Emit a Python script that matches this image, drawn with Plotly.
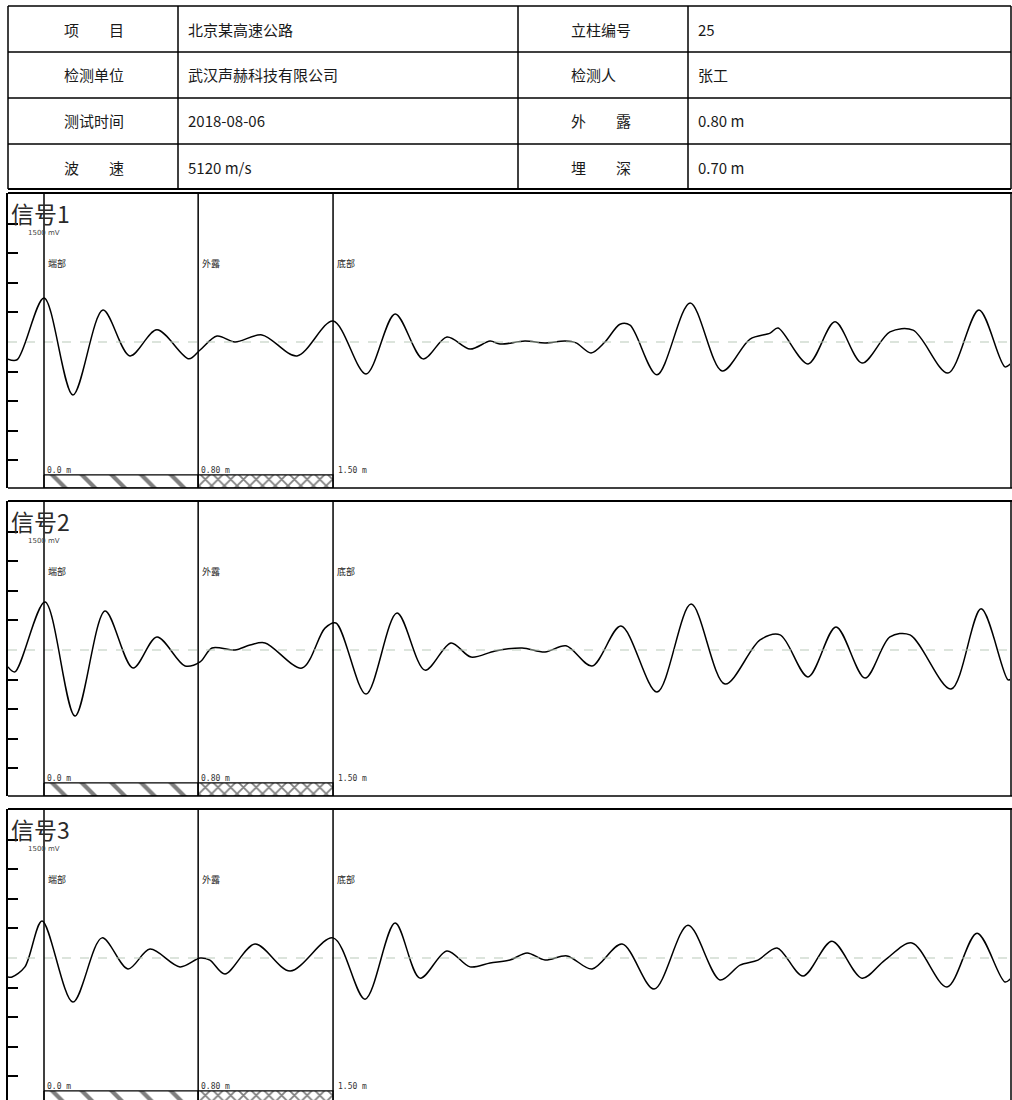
import plotly.graph_objects as go

W, H = 1012, 1100

# ---------------- data ----------------
left_labels = ["项　　目", "检测单位", "测试时间", "波　　速"]
left_values = ["北京某高速公路", "武汉声赫科技有限公司", "2018-08-06", "5120 m/s"]
right_labels = ["立柱编号", "检测人", "外　　露", "埋　　深"]
right_values = ["25", "张工", "0.80 m", "0.70 m"]

signal_names = ["信号1", "信号2", "信号3"]
gain_label = "1500 mV"
mark_pos = [0.0, 0.80, 1.50]          # m
mark_names = ["端部", "外露", "底部"]
mark_labels = ["0.0 m", "0.80 m", "1.50 m"]

# distance (m) / amplitude (tick units)
s1_x = [-0.187, -0.140, 0.000, 0.150, 0.306, 0.446, 0.586, 0.752, 0.810, 0.898, 0.991, 1.131, 1.313,
        1.500, 1.671, 1.822, 1.967, 2.091, 2.211, 2.315, 2.366, 2.496, 2.600, 2.704, 2.761, 2.839,
        2.911, 2.989, 3.041, 3.181, 3.353, 3.519, 3.664, 3.768, 3.809, 3.965, 4.105, 4.245, 4.390,
        4.510, 4.691, 4.852, 4.987, 5.024]
s1_y = [-0.58, -0.60, 1.49, -1.79, 1.08, -0.47, 0.41, -0.57, -0.27, 0.20, 0.00, 0.24, -0.47,
        0.71, -1.08, 0.95, -0.57, 0.17, -0.24, 0.03, -0.07, 0.03, -0.03, 0.03, -0.03, -0.37,
        0.00, 0.60, 0.57, -1.11, 1.32, -0.98, 0.10, 0.30, 0.47, -0.74, 0.68, -0.71, 0.34,
        0.40, -1.05, 1.08, -0.84, -0.68]

s2_x = [-0.187, -0.151, 0.005, 0.161, 0.317, 0.462, 0.586, 0.732, 0.810, 0.872, 0.991, 1.069, 1.147,
        1.339, 1.458, 1.515, 1.671, 1.832, 1.977, 2.112, 2.216, 2.341, 2.481, 2.600, 2.709, 2.844,
        2.994, 3.181, 3.358, 3.534, 3.716, 3.820, 3.965, 4.110, 4.261, 4.390, 4.494, 4.707, 4.863,
        5.003, 5.024]
s2_y = [-0.57, -0.74, 1.62, -2.23, 1.32, -0.61, 0.44, -0.54, -0.40, 0.07, 0.00, 0.17, 0.24,
        -0.61, 0.74, 0.91, -1.49, 1.25, -0.68, 0.24, -0.24, -0.03, 0.07, -0.07, 0.14, -0.54,
        0.81, -1.42, 1.55, -1.15, 0.34, 0.51, -0.91, 0.78, -0.95, 0.44, 0.51, -1.32, 1.39,
        -1.01, -0.95]

s3_x = [-0.187, -0.166, -0.099, -0.010, 0.150, 0.301, 0.436, 0.550, 0.706, 0.810, 0.861, 0.939, 1.095,
        1.277, 1.500, 1.666, 1.822, 1.951, 2.091, 2.211, 2.315, 2.418, 2.507, 2.600, 2.714, 2.844,
        3.000, 3.166, 3.342, 3.508, 3.612, 3.705, 3.804, 3.939, 4.089, 4.245, 4.364, 4.504, 4.686,
        4.842, 4.987, 5.024]
s3_y = [-0.64, -0.64, -0.30, 1.25, -1.49, 0.68, -0.37, 0.30, -0.30, 0.00, -0.07, -0.54, 0.47,
        -0.44, 0.68, -1.39, 1.18, -0.68, 0.24, -0.30, -0.17, -0.07, 0.17, -0.07, 0.07, -0.37,
        0.47, -1.05, 1.11, -0.74, -0.24, -0.07, 0.34, -0.61, 0.57, -0.68, -0.07, 0.51, -0.98,
        0.84, -0.81, -0.64]

signals = [(s1_x, s1_y), (s2_x, s2_y), (s3_x, s3_y)]
tick_vals = [-4, -3, -2, -1, 1, 2, 3, 4]

# ---------------- layout helpers ----------------
def px(x):
    return x / W


def py(y):
    return 1 - y / H


CJK = "Noto Sans CJK SC"
shapes, annotations, traces = [], [], []

# ---------------- header table ----------------
tbl_left, tbl_right = 8, 1011
row_lines = [6, 52, 98, 144]
col_lines = [8, 178, 518, 688]
for i, yl in enumerate(row_lines):
    shapes.append(dict(type="line", xref="paper", yref="paper", x0=px(tbl_left), x1=px(tbl_right),
                       y0=py(yl), y1=py(yl), line=dict(color="black", width=1.5)))
shapes.append(dict(type="line", xref="paper", yref="paper", x0=px(tbl_left), x1=px(tbl_right),
                   y0=py(189), y1=py(189), line=dict(color="black", width=2)))
for xl in col_lines + [tbl_right]:
    shapes.append(dict(type="line", xref="paper", yref="paper", x0=px(xl), x1=px(xl),
                       y0=py(6), y1=py(189), line=dict(color="black", width=1.5)))

row_centers = [29, 75, 121, 167]
for i, yc in enumerate(row_centers):
    for txt, xx in [(left_labels[i], 62), (left_values[i], 186), (right_labels[i], 569), (right_values[i], 696)]:
        annotations.append(dict(text=txt, xref="paper", yref="paper", x=px(xx), y=py(yc),
                                xanchor="left", yanchor="middle", showarrow=False,
                                font=dict(family=CJK, size=15, color="#1a1a1a")))

# ---------------- signal panels ----------------
panel_tops = [193, 501, 809]
panel_h = 295
unit = 29.6
x_left, x_right = 8, 1010
scale = 192.7  # px per m
x0_px = 44
xrange_m = [(x_left - x0_px) / scale, (x_right - x0_px) / scale]

layout_axes = {}
for k in range(3):
    top = panel_tops[k]
    bottom = min(top + panel_h, H)
    base = top + 149
    yr = [(base - bottom) / unit, (base - top) / unit]
    xa = "xaxis" if k == 0 else f"xaxis{k+1}"
    ya = "yaxis" if k == 0 else f"yaxis{k+1}"
    xr = "x" if k == 0 else f"x{k+1}"
    yrf = "y" if k == 0 else f"y{k+1}"
    layout_axes[xa] = dict(domain=[px(x_left), px(x_right)], range=xrange_m, anchor=yrf,
                           showgrid=False, zeroline=False, showticklabels=False, ticks="",
                           showline=False, fixedrange=True)
    layout_axes[ya] = dict(domain=[py(bottom), py(top)], range=yr, anchor=xr,
                           showgrid=False, zeroline=False, showticklabels=False,
                           ticks="inside", ticklen=10, tickwidth=1.5, tickcolor="black",
                           tickvals=tick_vals, showline=True, linecolor="black", linewidth=1.5,
                           fixedrange=True)

    # frame: top, right, bottom (if visible)
    shapes.append(dict(type="line", xref=f"{xr} domain", yref=f"{yrf} domain", x0=0, x1=1.003, y0=1, y1=1,
                       line=dict(color="black", width=2)))
    if top + panel_h <= H:
        shapes.append(dict(type="line", xref=f"{xr} domain", yref=f"{yrf} domain", x0=0, x1=1.003, y0=0, y1=0,
                           line=dict(color="black", width=1.5)))
    shapes.append(dict(type="line", xref=f"{xr} domain", yref=f"{yrf} domain", x0=1.001, x1=1.001, y0=0, y1=1,
                       line=dict(color="black", width=1.5)))

    # baseline
    shapes.append(dict(type="line", xref=f"{xr} domain", yref=yrf, x0=0, x1=1, y0=0, y1=0,
                       line=dict(color="#b9c9b9", width=1, dash="dash")))
    # marker lines
    for m in mark_pos:
        shapes.append(dict(type="line", xref=xr, yref=f"{yrf} domain", x0=m, x1=m, y0=0, y1=1,
                           line=dict(color="black", width=1.5)))

    # hatch band
    band_top = -4.49
    band_bot = (base - (top + panel_h)) / unit
    traces.append(go.Scatter(x=[mark_pos[0], mark_pos[1], mark_pos[1], mark_pos[0], mark_pos[0]],
                             y=[band_top, band_top, band_bot, band_bot, band_top],
                             fill="toself", mode="lines", line=dict(color="black", width=1.2),
                             fillcolor="white",
                             fillpattern=dict(shape="\\", size=21, solidity=0.2, fgcolor="black", bgcolor="white"),
                             xaxis=xr, yaxis=yrf, hoverinfo="skip", showlegend=False))
    traces.append(go.Scatter(x=[mark_pos[1], mark_pos[2], mark_pos[2], mark_pos[1], mark_pos[1]],
                             y=[band_top, band_top, band_bot, band_bot, band_top],
                             fill="toself", mode="lines", line=dict(color="black", width=1.2),
                             fillcolor="white",
                             fillpattern=dict(shape="x", size=9, solidity=0.35, fgcolor="black", bgcolor="white"),
                             xaxis=xr, yaxis=yrf, hoverinfo="skip", showlegend=False))

    # waveform
    sx, sy = signals[k]
    traces.append(go.Scatter(x=sx, y=sy, mode="lines",
                             line=dict(color="black", width=1.5, shape="spline", smoothing=0.9),
                             xaxis=xr, yaxis=yrf, hoverinfo="skip", showlegend=False))

    # texts
    annotations.append(dict(text=signal_names[k], xref="paper", yref="paper", x=px(9), y=py(top + 20),
                            xanchor="left", yanchor="middle", showarrow=False,
                            font=dict(family=CJK, size=23, color="#2a2a2a")))
    annotations.append(dict(text=gain_label, xref="paper", yref="paper", x=px(26), y=py(top + 40),
                            xanchor="left", yanchor="middle", showarrow=False,
                            font=dict(family="DejaVu Sans", size=7, color="#444")))
    for m, nm in zip(mark_pos, mark_names):
        annotations.append(dict(text=nm, xref=xr, yref="paper", x=m, y=py(top + 70),
                                xanchor="left", yanchor="middle", xshift=2, showarrow=False,
                                font=dict(family=CJK, size=9, color="#222")))
    for m, lb in zip(mark_pos, mark_labels):
        annotations.append(dict(text=lb, xref=xr, yref="paper", x=m, y=py(top + 277),
                                xanchor="left", yanchor="middle", xshift=1 if m < 1.5 else 3,
                                showarrow=False,
                                font=dict(family="DejaVu Sans Mono", size=8, color="#333")))

fig = go.Figure(data=traces)
fig.update_layout(width=W, height=H, margin=dict(l=0, r=0, t=0, b=0),
                  paper_bgcolor="white", plot_bgcolor="white", showlegend=False,
                  shapes=shapes, annotations=annotations, **layout_axes)
fig.write_html("out.html", config={"displayModeBar": False},
               post_script="document.body.style.margin='0';document.body.style.overflow='hidden';")
